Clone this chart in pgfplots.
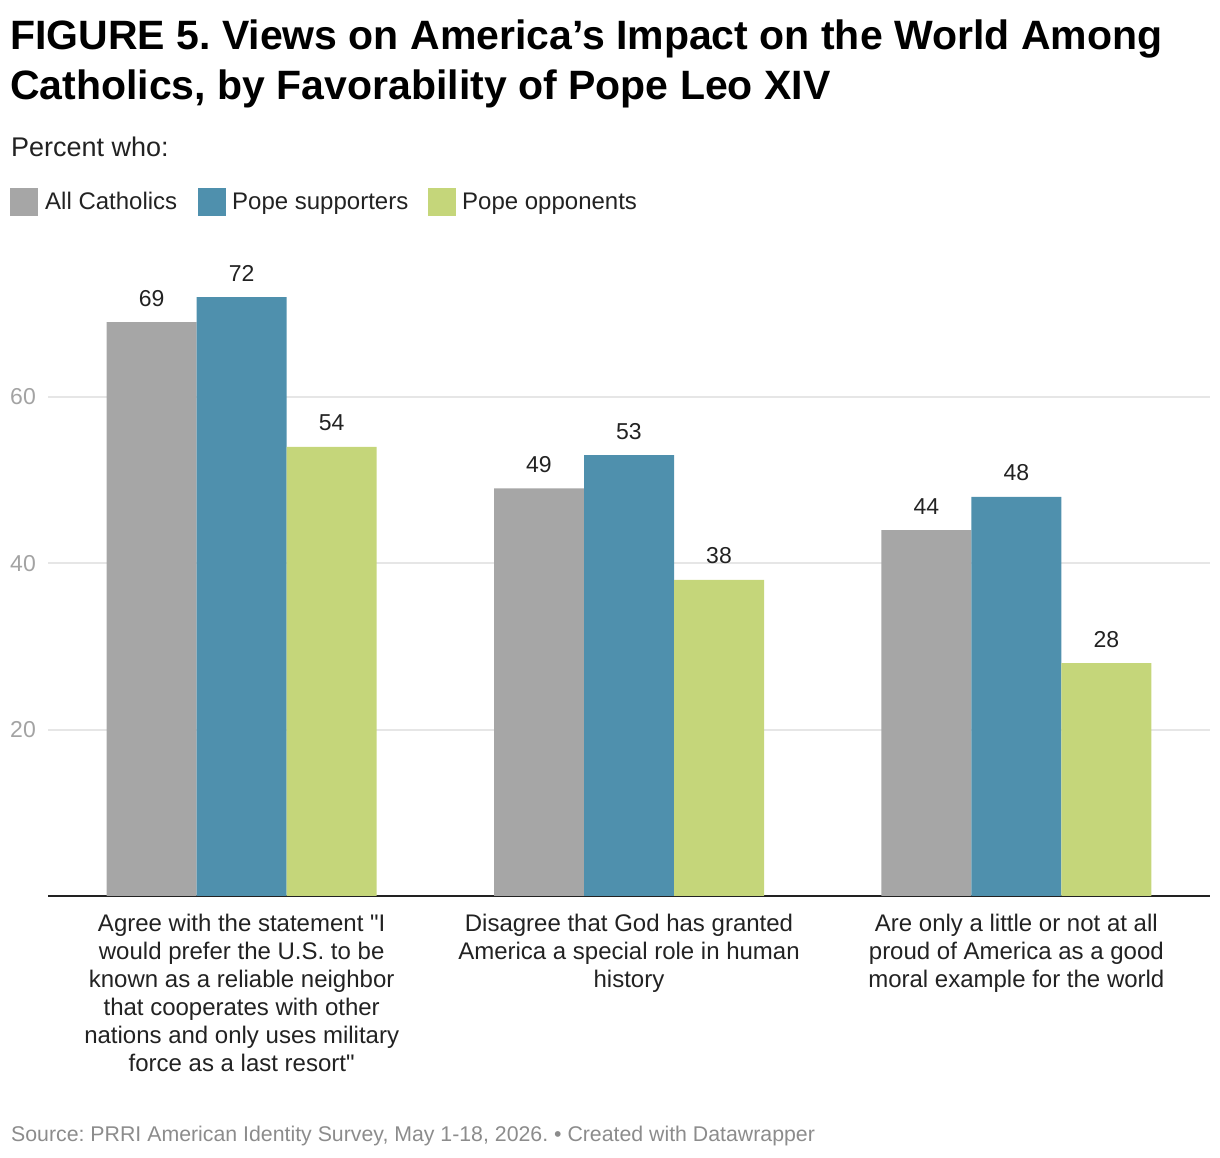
\documentclass[border=0pt]{standalone}
\usepackage{fontspec}
\defaultfontfeatures[\rmfamily]{}
\setmainfont{Liberation Sans}
\usepackage{pgfplots}
\pgfplotsset{compat=1.18}
\definecolor{cgray}{HTML}{A6A6A6}
\definecolor{cblue}{HTML}{4F90AD}
\definecolor{cgreen}{HTML}{C5D67A}
\definecolor{ctext}{HTML}{222222}
\definecolor{ctick}{HTML}{A3A3A3}
\definecolor{cfoot}{HTML}{8C8C8C}
\definecolor{cgrid}{HTML}{E6E6E6}
\frenchspacing
\begin{document}
\begin{tikzpicture}
\path[use as bounding box] (0pt,0pt) rectangle (1220pt,1158pt);
% title
\node[anchor=base west, inner sep=0pt, font=\fontsize{41}{50}\selectfont\bfseries] at (10pt,1108.5pt) {FIGURE 5. Views on America’s Impact on the World Among};
\node[anchor=base west, inner sep=0pt, font=\fontsize{41}{50}\selectfont\bfseries] at (10pt,1058pt) {Catholics, by Favorability of Pope Leo XIV};
\node[anchor=base west, inner sep=0pt, font=\fontsize{27}{32}\selectfont, text=ctext] at (11pt,1001pt) {Percent who:};
% legend
\fill[cgray] (10pt,942pt) rectangle (38pt,970pt);
\node[anchor=base west, inner sep=0pt, font=\fontsize{24}{28}\selectfont, text=ctext] at (45pt,948pt) {All Catholics};
\fill[cblue] (198pt,942pt) rectangle (226pt,970pt);
\node[anchor=base west, inner sep=0pt, font=\fontsize{24}{28}\selectfont, text=ctext] at (232pt,948pt) {Pope supporters};
\fill[cgreen] (428pt,942pt) rectangle (456pt,970pt);
\node[anchor=base west, inner sep=0pt, font=\fontsize{24}{28}\selectfont, text=ctext] at (462pt,948pt) {Pope opponents};
% footer
\node[anchor=base west, inner sep=0pt, font=\fontsize{21.3}{24}\selectfont, text=cfoot] at (11pt,16pt) {Source: PRRI American Identity Survey, May 1-18, 2026. • Created with Datawrapper};
\begin{axis}[
  at={(48pt,262pt)}, anchor=south west,
  scale only axis, width=1162pt, height=665.4pt,
  xmin=-0.5, xmax=2.5, ymin=0, ymax=80,
  ybar=0pt, bar width=90pt,
  separate axis lines,
  axis x line*=bottom, axis y line*=left,
  x axis line style={draw=ctext, line width=2.5pt, -},
  y axis line style={draw=none},
  major tick length=0pt,
  tick style={draw=none},
  ytick={20,40,60},
  ymajorgrids, grid style={cgrid, line width=2pt},
  yticklabel style={font=\fontsize{23}{28}\selectfont, text=ctick, anchor=east, inner sep=0pt, xshift=-12pt},
  xtick={0,1,2},
  xticklabels={{Agree with the statement "I\\would prefer the U.S. to be\\known as a reliable neighbor\\that cooperates with other\\nations and only uses military\\force as a last resort"},
    {Disagree that God has granted\\America a special role in human\\history},
    {Are only a little or not at all\\proud of America as a good\\moral example for the world}},
  xticklabel style={font=\fontsize{24}{28}\selectfont, text=ctext, align=center, anchor=north, inner sep=0pt, yshift=-18pt},
  /pgf/number format/assume math mode=true,
  nodes near coords,
  every node near coord/.append style={font=\fontsize{23}{28}\selectfont, text=ctext, anchor=base, inner sep=0pt, yshift=16pt},
  clip=false,
]
\addplot[fill=cgray, draw=none] coordinates {(0,69) (1,49) (2,44)};
\addplot[fill=cblue, draw=none] coordinates {(0,72) (1,53) (2,48)};
\addplot[fill=cgreen, draw=none] coordinates {(0,54) (1,38) (2,28)};
\end{axis}
\end{tikzpicture}
\end{document}
